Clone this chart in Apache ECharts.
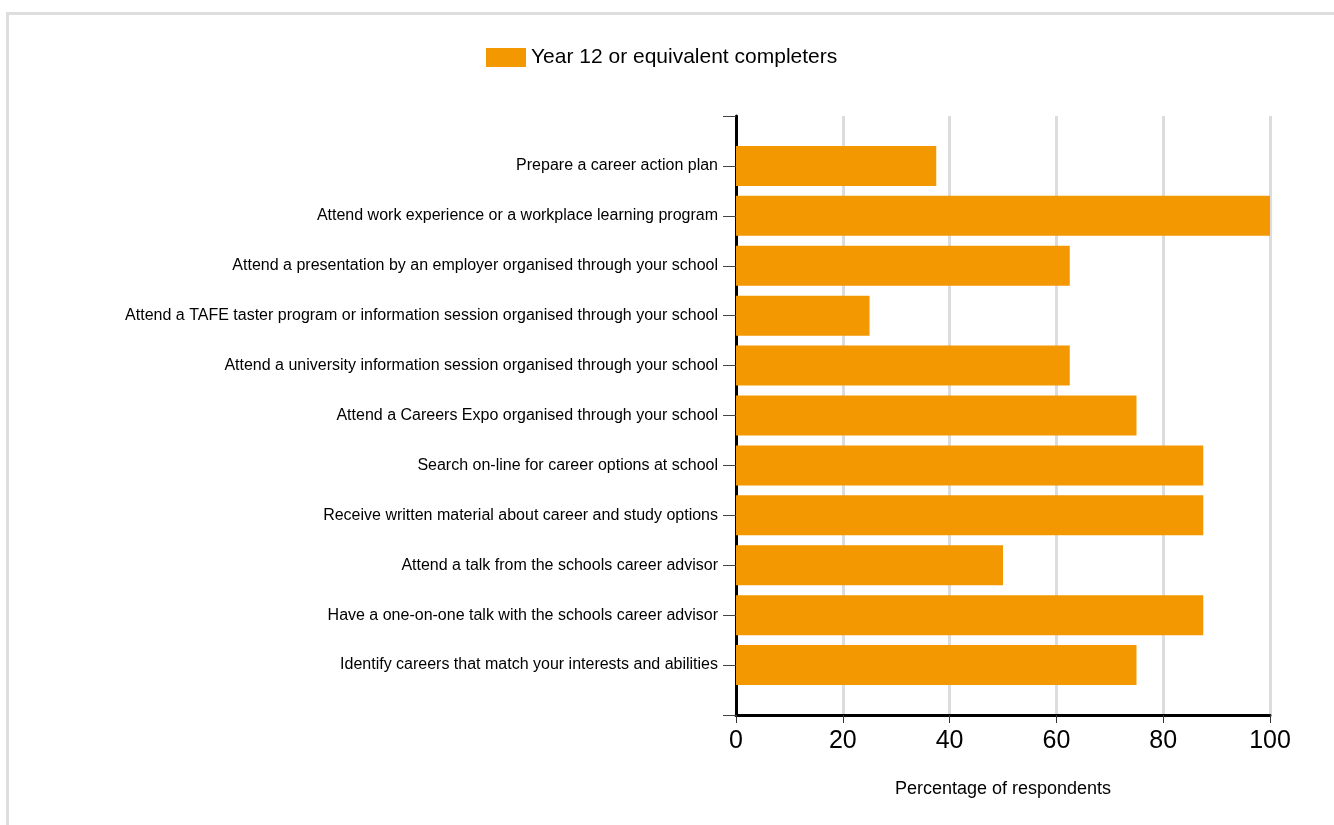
<!DOCTYPE html>
<html><head><meta charset="utf-8">
<script src="https://cdn.jsdelivr.net/npm/echarts@6/dist/echarts.min.js"></script>
<style>
html,body{margin:0;padding:0;background:#fff;}
#frame{position:absolute;left:6px;top:12px;width:1340px;height:830px;border:3px solid #dedede;box-sizing:border-box;}
#chart{position:absolute;left:0;top:0;width:1334px;height:825px;}
</style></head>
<body>
<div id="frame"></div>
<div id="chart"></div>
<script>
const categories = [
  "Prepare a career action plan",
  "Attend work experience or a workplace learning program",
  "Attend a presentation by an employer organised through your school",
  "Attend a TAFE taster program or information session organised through your school",
  "Attend a university information session organised through your school",
  "Attend a Careers Expo organised through your school",
  "Search on-line for career options at school",
  "Receive written material about career and study options",
  "Attend a talk from the schools career advisor",
  "Have a one-on-one talk with the schools career advisor",
  "Identify careers that match your interests and abilities"
];
const seriesName = "Year 12 or equivalent completers";
const values = [37.5, 100, 62.5, 25, 62.5, 75, 87.5, 87.5, 50, 87.5, 75];
const xTicks = [0, 20, 40, 60, 80, 100];

const axisCats = [''].concat(categories, ['']);
const axisVals = [null].concat(values, [null]);

const chart = echarts.init(document.getElementById('chart'));
chart.setOption({
  animation: false,
  textStyle: { fontFamily: 'Liberation Sans, Arial, sans-serif' },
  legend: {
    left: 481, top: 42,
    itemWidth: 40, itemHeight: 19, itemGap: 10,
    textStyle: { fontSize: 21, color: '#000', fontFamily: 'Liberation Sans, Arial, sans-serif' },
    data: [{ name: seriesName, icon: 'rect' }]
  },
  grid: { left: 736, right: 64, top: 116, bottom: 110, containLabel: false },
  xAxis: {
    type: 'value', min: xTicks[0], max: xTicks[xTicks.length - 1], interval: 20,
    name: 'Percentage of respondents', nameLocation: 'middle', nameGap: 65,
    nameTextStyle: { fontSize: 18, color: '#000' },
    axisLine: { show: true, lineStyle: { color: '#000', width: 3 } },
    axisTick: { show: true, length: 8, lineStyle: { color: '#333', width: 1 } },
    axisLabel: { fontSize: 25, color: '#000', margin: 14 },
    splitLine: { show: true, lineStyle: { color: '#dcdcdc', width: 3 } }
  },
  yAxis: {
    type: 'category', data: axisCats, inverse: true, boundaryGap: false,
    axisLine: { show: true, lineStyle: { color: '#000', width: 3 } },
    axisTick: { show: true, length: 13, alignWithLabel: true, lineStyle: { color: '#444', width: 1 } },
    axisLabel: { fontSize: 16, color: '#000', margin: 18, interval: 0 },
    splitLine: { show: false }
  },
  series: [{
    name: seriesName, type: 'bar', data: axisVals,
    barWidth: 40,
    itemStyle: { color: '#F39800' }
  }]
});
</script>
</body></html>
